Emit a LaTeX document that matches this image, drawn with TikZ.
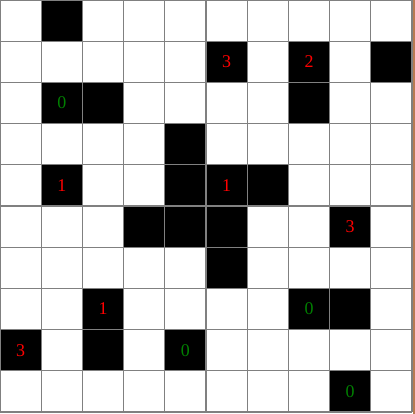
\documentclass[tikz,border=0pt]{standalone}
\usepackage{fontspec}
\setmainfont{Liberation Serif}
\definecolor{cluered}{RGB}{255,0,0}
\definecolor{cluegreen}{RGB}{0,128,0}
\definecolor{framebrown}{RGB}{184,122,82}
\begin{document}
\begin{tikzpicture}[
    x=41.2bp, y=-41.2bp,
    wall/.style={fill=black},
    gridline/.style={draw=gray, line width=1.1bp},
    clue/.style={font=\fontsize{18}{18}\selectfont, inner sep=0pt},
    hot/.style={clue, text=cluered},
    cold/.style={clue, text=cluegreen}
]
    \useasboundingbox (0bp,0bp) rectangle (415bp,-414bp);
    \fill[white] (0bp,0bp) rectangle (415bp,-414bp);

    % Walls
    \foreach \c/\r in {1/0, 9/1, 2/2, 7/2, 4/3, 4/4, 6/4, 3/5, 4/5, 5/5, 5/6, 8/7, 2/8,
                       5/1, 7/1, 1/2, 1/4, 5/4, 8/5, 2/7, 7/7, 0/8, 4/8, 8/9}
        \fill[wall] (\c,\r) rectangle ++(1,1);

    % Grid
    \foreach \i in {0,...,10} {
        \draw[gridline] (\i,0) -- (\i,10);
        \draw[gridline] (0,\i) -- (10,\i);
    }
    \fill[framebrown] (412.5bp,0bp) rectangle (415bp,-414bp);

    % Clues
    \foreach \c/\r/\n in {5/1/3, 7/1/2, 1/4/1, 5/4/1, 8/5/3, 2/7/1, 0/8/3}
        \node[hot] (clue\c\r) at (\c+0.5,\r+0.5) {\n};
    \foreach \c/\r/\n in {1/2/0, 7/7/0, 4/8/0, 8/9/0}
        \node[cold] (clue\c\r) at (\c+0.5,\r+0.5) {\n};
\end{tikzpicture}
\end{document}
